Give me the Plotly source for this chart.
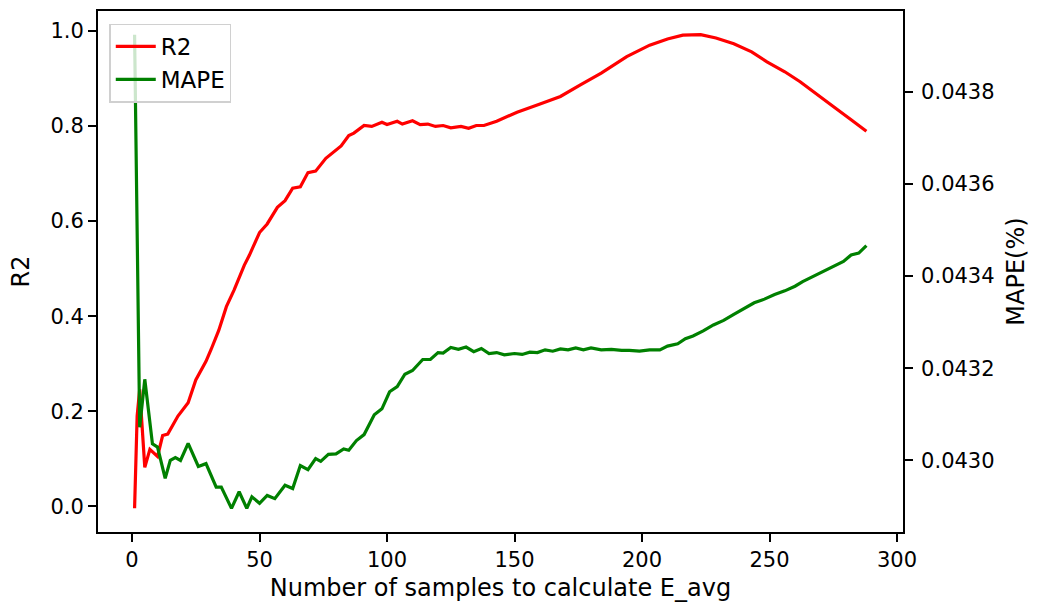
import plotly.graph_objects as go

# R2 series (x = number of samples)
r2_x = [1, 2, 3, 5, 7, 10, 12, 14, 18, 22, 25, 29, 31, 34, 37, 40, 44, 46, 50, 53, 57, 60,
        63, 66, 69, 72, 76, 78, 82, 85, 87, 91, 94, 98, 100, 104, 106, 110, 113, 116, 119,
        122, 125, 129, 132, 135, 138, 143, 151, 160, 168, 176, 184, 194, 203, 210, 216, 223,
        229, 236, 243, 249, 256, 262, 269, 275, 282, 288]
r2_y = [-0.004, 0.19, 0.246, 0.082, 0.12, 0.105, 0.149, 0.152, 0.19, 0.218, 0.266, 0.305,
        0.33, 0.37, 0.42, 0.455, 0.507, 0.528, 0.576, 0.594, 0.629, 0.643, 0.669, 0.672,
        0.702, 0.705, 0.732, 0.740, 0.758, 0.780, 0.785, 0.801, 0.799, 0.808, 0.803, 0.810,
        0.804, 0.811, 0.803, 0.804, 0.799, 0.801, 0.796, 0.799, 0.795, 0.801, 0.801, 0.810,
        0.829, 0.846, 0.862, 0.887, 0.911, 0.946, 0.970, 0.983, 0.991, 0.992, 0.985, 0.973,
        0.956, 0.935, 0.914, 0.893, 0.866, 0.841, 0.813, 0.789]

# MAPE series
mape_x = [1, 3, 5, 8, 10, 13, 15, 17, 19, 22, 26, 29, 33, 35, 39, 42, 45, 47, 50, 53, 56,
          60, 63, 66, 69, 72, 74, 77, 80, 83, 85, 88, 91, 95, 98, 101, 104, 107, 110, 114,
          117, 120, 122, 125, 128, 131, 134, 137, 140, 143, 146, 150, 153, 156, 159, 162,
          165, 168, 171, 174, 177, 180, 184, 188, 192, 195, 199, 203, 207, 210, 214, 217,
          220, 224, 228, 232, 236, 240, 244, 248, 252, 256, 260, 263, 267, 271, 275, 279,
          282, 285, 288]
mape_y = [0.043924, 0.043072, 0.043176, 0.043036, 0.043029, 0.042961, 0.043000, 0.043006,
          0.043000, 0.043037, 0.042987, 0.042993, 0.042942, 0.042942, 0.042896, 0.042932,
          0.042896, 0.042921, 0.042907, 0.042924, 0.042917, 0.042946, 0.042939, 0.042989,
          0.042980, 0.043004, 0.042998, 0.043013, 0.043014, 0.043025, 0.043022, 0.043043,
          0.043056, 0.043099, 0.043112, 0.043149, 0.043160, 0.043187, 0.043195, 0.043219,
          0.043219, 0.043234, 0.043233, 0.043245, 0.043241, 0.043246, 0.043236, 0.043243,
          0.043232, 0.043234, 0.043229, 0.043232, 0.043230, 0.043235, 0.043234, 0.043240,
          0.043237, 0.043242, 0.043240, 0.043244, 0.043240, 0.043244, 0.043240, 0.043241,
          0.043239, 0.043239, 0.043237, 0.043240, 0.043240, 0.043248, 0.043253, 0.043264,
          0.043270, 0.043281, 0.043294, 0.043304, 0.043317, 0.043330, 0.043342, 0.043350,
          0.043360, 0.043368, 0.043378, 0.043388, 0.043399, 0.043410, 0.043421, 0.043432,
          0.043446, 0.043450, 0.043466]

x_ticks = [0, 50, 100, 150, 200, 250, 300]
r2_ticks = [0.0, 0.2, 0.4, 0.6, 0.8, 1.0]
mape_ticks = [0.0430, 0.0432, 0.0434, 0.0436, 0.0438]

FONT = "DejaVu Sans"
FS = 21
TFS = 24

def pad_range(vals, frac=0.05):
    lo, hi = min(vals), max(vals)
    d = (hi - lo) * frac
    return [lo - d, hi + d]

fig = go.Figure()
fig.add_trace(go.Scatter(x=r2_x, y=r2_y, mode="lines", name="R2",
                         line=dict(color="#ff0000", width=3.2), yaxis="y"))
fig.add_trace(go.Scatter(x=mape_x, y=mape_y, mode="lines", name="MAPE",
                         line=dict(color="#008000", width=3.2), yaxis="y2"))

axis_common = dict(showline=True, linecolor="black", linewidth=1.8, ticks="outside",
                   ticklen=8, tickwidth=1.8, tickcolor="black", showgrid=False,
                   zeroline=False, tickfont=dict(family=FONT, size=FS, color="black"))

fig.update_layout(
    width=1038, height=610,
    margin=dict(l=98, r=135, t=9, b=78),
    paper_bgcolor="white", plot_bgcolor="white",
    font=dict(family=FONT, size=FS, color="black"),
    showlegend=True,
    legend=dict(x=0.014, y=0.976, xanchor="left", yanchor="top",
                bgcolor="rgba(255,255,255,0.8)", bordercolor="#d0d0d0", borderwidth=1.5,
                font=dict(family=FONT, size=23), tracegroupgap=0, itemwidth=40),
    xaxis=dict(range=pad_range(r2_x), tickvals=x_ticks, mirror=True,
               title=dict(text="Number of samples to calculate E_avg", standoff=8,
                          font=dict(family=FONT, size=TFS)),
               **axis_common),
    yaxis=dict(range=pad_range(r2_y), tickvals=r2_ticks, tickformat=".1f",
               title=dict(text="R2", standoff=14, font=dict(family=FONT, size=TFS)),
               **axis_common),
    yaxis2=dict(range=pad_range(mape_y), tickvals=mape_ticks, tickformat=".4f",
                overlaying="y", side="right", ticklabelstandoff=4,
                title=dict(text="MAPE(%)", standoff=14, font=dict(family=FONT, size=TFS)),
                **axis_common),
)

fig.write_html("out.html")
